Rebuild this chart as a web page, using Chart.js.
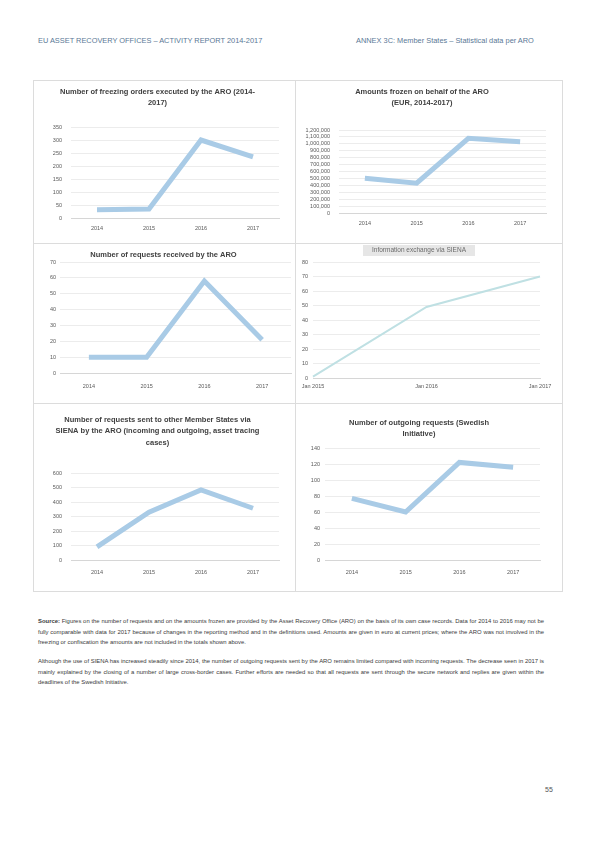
<!DOCTYPE html>
<html>
<head>
<meta charset="utf-8">
<title>ARO statistics</title>
<script src="https://cdn.jsdelivr.net/npm/chart.js@4.4.1/dist/chart.umd.min.js"></script>
<style>
  html, body { margin: 0; padding: 0; background: #fff; }
  body { width: 595px; height: 842px; position: relative; font-family: "Liberation Sans", Arial, sans-serif; color: #404040; }
  .hdr { position: absolute; top: 36px; font-size: 7.4px; color: #5a7896; white-space: nowrap; }
  .cell { position: absolute; border: 1px solid #dcdcdc; box-sizing: border-box; }
  canvas { position: absolute; }
  .txt { position: absolute; left: 38px; width: 506px; font-size: 5.9px; line-height: 10.5px; text-align: justify; color: #3a3a3a; margin: 0; }
  .pg { position: absolute; left: 545px; top: 786px; font-size: 7px; color: #555; }
</style>
</head>
<body>

<div class="hdr" style="left:38px">EU ASSET RECOVERY OFFICES – ACTIVITY REPORT 2014-2017</div>
<div class="hdr" style="left:356px">ANNEX 3C: Member States – Statistical data per ARO</div>

<div class="cell" style="left:33px;top:80px;width:263px;height:164px"></div>
<div class="cell" style="left:295px;top:80px;width:268px;height:164px"></div>
<div class="cell" style="left:33px;top:243px;width:263px;height:161px"></div>
<div class="cell" style="left:295px;top:243px;width:268px;height:161px"></div>
<div class="cell" style="left:33px;top:403px;width:263px;height:189px"></div>
<div class="cell" style="left:295px;top:403px;width:268px;height:189px"></div>

<canvas id="c1"></canvas>
<canvas id="c2"></canvas>
<canvas id="c3"></canvas>
<canvas id="c4"></canvas>
<canvas id="c5"></canvas>
<canvas id="c6"></canvas>

<p class="txt" style="top:616px"><b>Source:</b> Figures on the number of requests and on the amounts frozen are provided by the Asset Recovery Office (ARO) on the basis of its own case records. Data for 2014 to 2016 may not be fully comparable with data for 2017 because of changes in the reporting method and in the definitions used. Amounts are given in euro at current prices; where the ARO was not involved in the freezing or confiscation the amounts are not included in the totals shown above.</p>
<p class="txt" style="top:656px">Although the use of SIENA has increased steadily since 2014, the number of outgoing requests sent by the ARO remains limited compared with incoming requests. The decrease seen in 2017 is mainly explained by the closing of a number of large cross-border cases. Further efforts are needed so that all requests are sent through the secure network and replies are given within the deadlines of the Swedish Initiative.</p>

<div class="pg">55</div>

<script>
// DATA
const years = ["2014", "2015", "2016", "2017"];
const siennaLabels = ["Jan 2015", "Jan 2016", "Jan 2017"];

const freezingOrders = [32, 35, 300, 235];
const amountsFrozen = [502000, 430000, 1080000, 1031000];
const requestsReceived = [10, 10, 58, 21];
const siennaMessages = [1, 49, 70];
const requestsSent = [90, 330, 483, 357];
const outgoingRequests = [77, 60, 122, 116];

const FONT = "Liberation Sans";
const BLUE = "#a9cbe6";
const TEAL = "#bfe0e3";

// draws a grey box behind the title (chart 4 only)
const titleBox = {
  id: "titleBox",
  beforeDraw(chart, args, opts) {
    if (!opts.on) return;
    const ctx = chart.ctx, t = chart.titleBlock;
    const f = chart.options.plugins.title.font;
    ctx.save();
    ctx.font = `${f.weight || "normal"} ${f.size}px ${f.family}`;
    const w = ctx.measureText(chart.options.plugins.title.text).width + 18;
    const cx = (t.left + t.right) / 2;
    ctx.fillStyle = "#e6e6e6";
    ctx.fillRect(cx - w / 2, opts.y, w, opts.h);
    ctx.restore();
  }
};

// cell = [x, y, w, h], area = {l, t, r, b} in page pixels
function lineChart(id, cell, area, o) {
  const canvas = document.getElementById(id);
  canvas.width = cell[2];
  canvas.height = cell[3];
  canvas.style.left = cell[0] + "px";
  canvas.style.top = cell[1] + "px";

  const nLines = Array.isArray(o.title) ? o.title.length : 1;
  const tSize = o.titleSize || 7.5;
  const lh = o.titleLH || 11.5;
  const yW = area.l - cell[0] - 2;
  const xH = o.xPad + 8;

  return new Chart(canvas, {
    type: "line",
    data: {
      labels: o.labels,
      datasets: [{
        data: o.data,
        borderColor: o.color || BLUE,
        borderWidth: o.width || 5,
        pointRadius: 0,
        tension: 0,
        fill: false
      }]
    },
    plugins: [titleBox],
    options: {
      responsive: false,
      animation: false,
      layout: {
        padding: {
          left: 2,
          right: cell[0] + cell[2] - area.r,
          top: 0,
          bottom: cell[1] + cell[3] - area.b - xH
        }
      },
      plugins: {
        legend: { display: false },
        tooltip: { enabled: false },
        titleBox: o.box || { on: false },
        title: {
          display: true,
          text: o.title,
          color: o.titleColor || "#404040",
          font: { family: FONT, size: tSize, weight: o.titleWeight || "bold", lineHeight: lh + "px" },
          padding: { top: o.titleTop - cell[1], bottom: area.t - o.titleTop - nLines * lh }
        }
      },
      scales: {
        x: {
          offset: o.offset !== false,
          grid: { display: false, drawTicks: false },
          border: { color: "#d6d6d6" },
          ticks: { padding: o.xPad, color: "#595959", font: { family: FONT, size: 5.5 }, maxRotation: 0, autoSkip: false },
          afterFit: s => { s.height = xH; }
        },
        y: {
          min: 0,
          max: o.max,
          grid: { color: "#ececec", drawTicks: false },
          border: { display: false },
          ticks: { stepSize: o.step, padding: o.yPad, color: "#595959", font: { family: FONT, size: 5.5 }, autoSkip: false },
          afterFit: s => { s.width = yW; }
        }
      }
    }
  });
}

// TOP ROW
lineChart("c1", [34, 81, 260, 161], { l: 71, r: 279, t: 127, b: 218 }, {
  title: ["Number of freezing orders executed by the ARO (2014-", "2017)"],
  titleTop: 86, labels: years, data: freezingOrders, max: 350, step: 50, xPad: 7, yPad: 9
});

lineChart("c2", [296, 81, 266, 161], { l: 339, r: 546, t: 130, b: 213 }, {
  title: ["Amounts frozen on behalf of the ARO", "(EUR, 2014-2017)"],
  titleTop: 86, labels: years, data: amountsFrozen, max: 1200000, step: 100000, xPad: 7, yPad: 9
});

// MIDDLE ROW
lineChart("c3", [34, 244, 260, 158], { l: 60, r: 291, t: 262, b: 373 }, {
  title: "Number of requests received by the ARO",
  titleTop: 249, labels: years, data: requestsReceived, max: 70, step: 10, xPad: 10, yPad: 4
});

lineChart("c4", [296, 244, 266, 158], { l: 313, r: 540, t: 262, b: 378 }, {
  title: "Information exchange via SIENA",
  titleTop: 246, titleSize: 6.5, titleLH: 8, titleWeight: "normal", titleColor: "#6b6b6b",
  box: { on: true, y: 1, h: 11 },
  labels: siennaLabels, data: siennaMessages, max: 80, step: 10, xPad: 5, yPad: 5,
  offset: false, color: TEAL, width: 2
});

// BOTTOM ROW
lineChart("c5", [34, 404, 260, 187], { l: 71, r: 279, t: 473, b: 560 }, {
  title: ["Number of requests sent to other Member States via", "SIENA by the ARO (incoming and outgoing, asset tracing", "cases)"],
  titleTop: 414, labels: years, data: requestsSent, max: 600, step: 100, xPad: 9, yPad: 9
});

lineChart("c6", [296, 404, 266, 187], { l: 325, r: 540, t: 448, b: 560 }, {
  title: ["Number of outgoing requests (Swedish", "Initiative)"],
  titleTop: 417, labels: years, data: outgoingRequests, max: 140, step: 20, xPad: 9, yPad: 5
});
</script>
</body>
</html>
